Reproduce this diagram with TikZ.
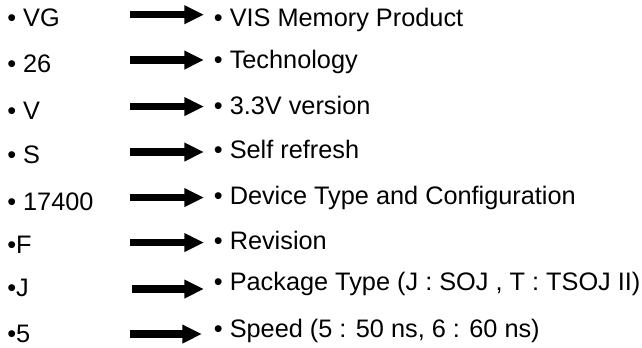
\documentclass[tikz,border=0pt]{standalone}
\usepackage{fontspec}
\setmainfont{Liberation Sans}
\usepackage{tikz}
\usetikzlibrary{arrows.meta}
\tikzstyle{code}=[anchor=base west,inner sep=0pt,font=\fontsize{18}{21.6}\selectfont]
\tikzstyle{desc}=[anchor=base west,inner sep=0pt,font=\fontsize{18}{21.6}\selectfont]
\tikzstyle{arr}=[draw=black,line width=5.4pt,-{Triangle[length=14pt,width=12.5pt]}]
\tikzstyle{none}=[inner sep=0pt]

\begin{document}
\begin{tikzpicture}
            \useasboundingbox (0,0) rectangle (16.05,-8.675);
            \node [style=code] (1c) at (0.175, -0.667) {• VG};
            \node [style=code] (2c) at (0.175, -1.817) {• 26};
            \node [style=code] (3c) at (0.175, -2.975) {• V};
            \node [style=code] (4c) at (0.175, -4.075) {• S};
            \node [style=code] (5c) at (0.175, -5.25) {• 17400};
            \node [style=code] (6c) at (0.175, -6.325) {•F};
            \node [style=code] (7c) at (0.175, -7.4) {•J};
            \node [style=code] (8c) at (0.175, -8.55) {•5};
            \node [style=desc] (1d) at (5.34, -0.667) {• VIS Memory Product};
            \node [style=desc] (2d) at (5.34, -1.708) {• Technology};
            \node [style=desc] (3d) at (5.34, -2.85) {• 3.3V version};
            \node [style=desc] (4d) at (5.34, -3.95) {• Self refresh};
            \node [style=desc] (5d) at (5.34, -5.1) {• Device Type and Configuration};
            \node [style=desc] (6d) at (5.34, -6.225) {• Revision};
            \node [style=desc] (7d) at (5.34, -7.25) {• Package Type (J : SOJ , T : TSOJ II)};
            \node [style=desc] (8d) at (5.34, -8.425) {• Speed (5 : 50 ns, 6 : 60 ns)};
            % arrow ends
            \node [style=none] (1s) at (3.25, -0.367) {};
            \node [style=none] (1e) at (5.1, -0.367) {};
            \node [style=none] (2s) at (3.25, -1.5) {};
            \node [style=none] (2e) at (5.1, -1.5) {};
            \node [style=none] (3s) at (3.25, -2.663) {};
            \node [style=none] (3e) at (5.1, -2.663) {};
            \node [style=none] (4s) at (3.25, -3.8) {};
            \node [style=none] (4e) at (5.1, -3.8) {};
            \node [style=none] (5s) at (3.25, -4.938) {};
            \node [style=none] (5e) at (5.1, -4.938) {};
            \node [style=none] (6s) at (3.25, -6.063) {};
            \node [style=none] (6e) at (5.1, -6.063) {};
            \node [style=none] (7s) at (3.3, -7.225) {};
            \node [style=none] (7e) at (5.1, -7.225) {};
            \node [style=none] (8s) at (3.25, -8.35) {};
            \node [style=none] (8e) at (5.05, -8.35) {};
            \draw [style=arr] (1s.center) to (1e.center);
            \draw [style=arr] (2s.center) to (2e.center);
            \draw [style=arr] (3s.center) to (3e.center);
            \draw [style=arr] (4s.center) to (4e.center);
            \draw [style=arr] (5s.center) to (5e.center);
            \draw [style=arr] (6s.center) to (6e.center);
            \draw [style=arr] (7s.center) to (7e.center);
            \draw [style=arr] (8s.center) to (8e.center);
\end{tikzpicture}
\end{document}
